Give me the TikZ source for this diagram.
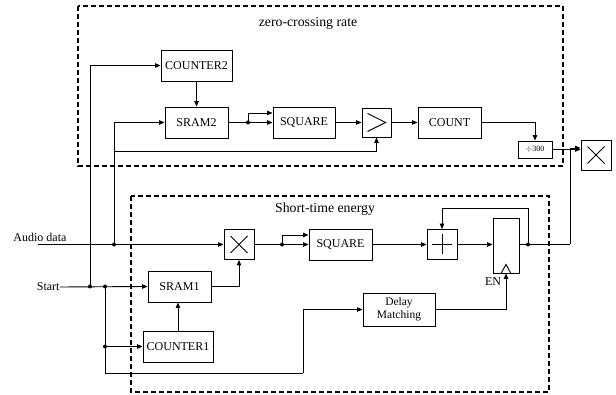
\documentclass[tikz,border=0pt]{standalone}
\usepackage{fontspec}
\setmainfont{Liberation Serif}
\usetikzlibrary{arrows.meta}
\begin{document}
\begin{tikzpicture}[x=1pt,y=-1pt,
  line width=0.9pt,
  font=\fontsize{12}{14}\selectfont,
  blk/.style={draw,rectangle,inner sep=0pt,align=center},
  arr/.style={-{Triangle[length=5.5pt,width=4.5pt]}},
  grp/.style={draw,line width=1.2pt,dash pattern=on 5pt off 3pt},
  ttl/.style={font=\fontsize{13.8}{16}\selectfont},
  dot/.style={circle,fill,inner sep=0pt,minimum size=4pt}]
\useasboundingbox (0,0) rectangle (616,395);

% group frames
\draw[grp] (78,6) rectangle (563,166);
\draw[grp] (131,196) rectangle (549,392);
\node[ttl] (ztitle) at (308,23) {zero-crossing rate};
\node[ttl] (etitle) at (325,209) {Short-time energy};

% zero-crossing rate blocks
\node[blk,minimum width=71pt,minimum height=31pt] (counter2) at (196.5,65.5) {COUNTER2};
\node[blk,minimum width=63pt,minimum height=31pt] (sram2) at (196.5,122.5) {SRAM2};
\node[blk,minimum width=62pt,minimum height=31pt] (sq1) at (304,122.5) {SQUARE};
\node[blk,minimum width=29pt,minimum height=29pt] (gt) at (376.5,122.5) {};
\draw (gt.center) ++(-9,-9) -- ++(18,9) -- ++(-18,9);
\node[blk,minimum width=63pt,minimum height=31pt] (count) at (449.5,122.5) {COUNT};
\node[blk,minimum width=34pt,minimum height=17pt,font=\fontsize{8}{9}\selectfont] (div) at (535,149.5) {$\div$300};
\node[blk,minimum width=30pt,minimum height=30pt] (mulout) at (596,155) {};
\draw (mulout.center) ++(-8.5,-8.5) -- ++(17,17) ++(-17,0) -- ++(17,-17);

% short-time energy blocks
\node[blk,minimum width=30pt,minimum height=30pt] (mul1) at (239,244.5) {};
\draw (mul1.center) ++(-8.5,-8.5) -- ++(17,17) ++(-17,0) -- ++(17,-17);
\node[blk,minimum width=63pt,minimum height=31pt] (sq2) at (340.5,244.5) {SQUARE};
\node[blk,minimum width=30pt,minimum height=30pt] (plus) at (442,244.5) {};
\draw (plus.center) ++(-10,0) -- ++(20,0) (plus.center) ++(0,-10) -- ++(0,20);
\node[blk,minimum width=26pt,minimum height=55pt] (reg) at (506,245.5) {};
\draw (reg.south) ++(-5,0) -- ++(5,-9) -- ++(5,9);
\node (en) at (493,282) {EN};
\node[blk,minimum width=72pt,minimum height=33pt,font=\fontsize{11.5}{12.5}\selectfont] (delay) at (399,309.5) {Delay\\Matching};
\node[blk,minimum width=63pt,minimum height=31pt] (sram1) at (179.5,286.5) {SRAM1};
\node[blk,minimum width=70pt,minimum height=31pt] (counter1) at (178,346.5) {COUNTER1};

% inputs
\node[anchor=base west,inner sep=0pt] (audiolbl) at (13,242) {Audio data};
\coordinate (audio) at (38,244.5);
\node[anchor=east,inner sep=0pt] (start) at (60,287) {Start};

% branch points
\node[dot] (da) at (114,244.5) {};
\node[dot] (ds1) at (90,286.5) {};
\node[dot] (ds2) at (105,286.5) {};
\node[dot] (ds3) at (105,346.5) {};
\node[dot] (dsr2) at (248,122.5) {};
\node[dot] (dmul) at (282,244.5) {};
\node[dot] (dreg) at (528,244.5) {};
\coordinate (tap) at (114,151);
\coordinate (low) at (105,373);
\coordinate (dl) at (303,373);
\coordinate (up) at (570,244.5);

% audio path
\draw[arr] (audio) -- (mul1.west);
\draw[arr] (da.center) |- (sram2.west);
\draw[arr] (da.center) -- (tap) -| (gt.south);

% start path
\draw[arr] (start.east) -- (sram1.west);
\draw[arr] (ds1.center) |- (counter2.west);
\draw (ds2.center) -- (low) -- (dl);
\draw[arr] (dl) |- (delay.west);
\draw[arr] (ds3.center) -- (counter1.west);

% zero-crossing rate chain
\draw[arr] (counter2.south) -- (sram2.north);
\draw[arr] (sram2.east) -- (sq1.west);
\draw[arr] (dsr2.center) |- ([yshift=9.5pt]sq1.west);
\draw[arr] (sq1.east) -- (gt.west);
\draw[arr] (gt.east) -- (count.west);
\draw[arr] (count.east) -| (div.north);
\draw[arr] (div.east) -- (div.east -| mulout.west);

% short-time energy chain
\draw[arr] (counter1.north) -- (counter1.north |- sram1.south);
\draw[arr] (sram1.east) -| (mul1.south);
\draw[arr] (mul1.east) -- (sq2.west);
\draw[arr] (dmul.center) |- ([yshift=9.5pt]sq2.west);
\draw[arr] (sq2.east) -- (plus.west);
\draw[arr] (plus.east) -- (plus.east -| reg.west);
\draw (reg.east |- dreg) -- (up);
\draw[arr] (up) |- ([yshift=7pt]mulout.west);
\draw[arr] (dreg.center) |- (442,208) -- (plus.north);
\draw[arr] (delay.east) -| (reg.south);
\end{tikzpicture}
\end{document}
